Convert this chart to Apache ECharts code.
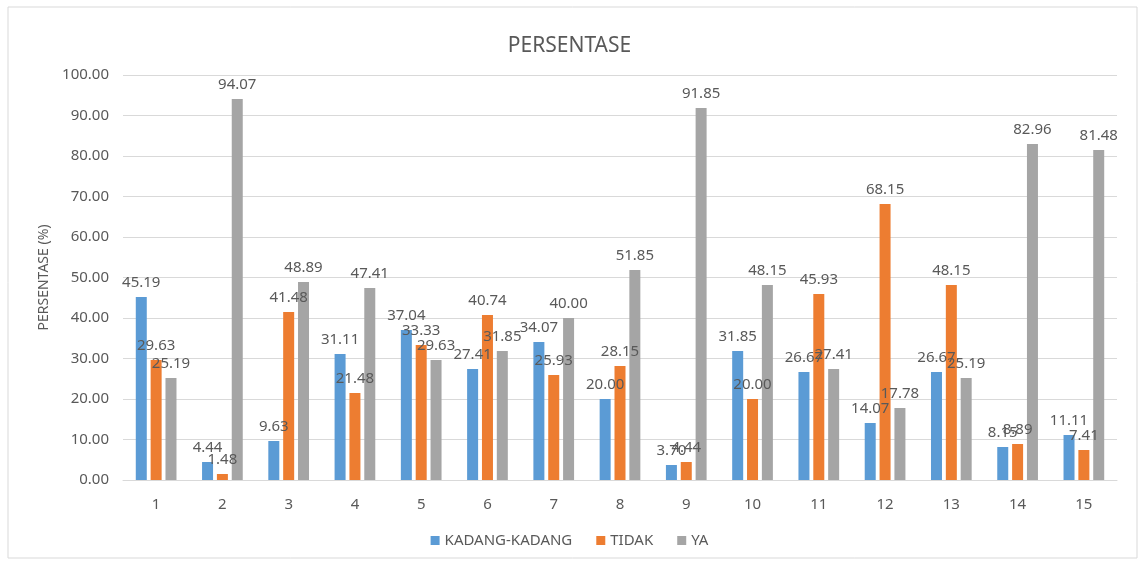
<!DOCTYPE html>
<html>
<head>
<meta charset="utf-8">
<script src="https://cdn.jsdelivr.net/npm/echarts@6/dist/echarts.min.js"></script>
<style>
  body { margin: 0; background: #fff; }
  #main { width: 1139px; height: 562px; }
</style>
</head>
<body>
<div id="main"></div>
<script>
var categories = ['1', '2', '3', '4', '5', '6', '7', '8', '9', '10', '11', '12', '13', '14', '15'];
var kadangKadang = [45.19, 4.44, 9.63, 31.11, 37.04, 27.41, 34.07, 20.00, 3.70, 31.85, 26.67, 14.07, 26.67, 8.15, 11.11];
var tidak = [29.63, 1.48, 41.48, 21.48, 33.33, 40.74, 25.93, 28.15, 4.44, 20.00, 45.93, 68.15, 48.15, 8.89, 7.41];
var ya = [25.19, 94.07, 48.89, 47.41, 29.63, 31.85, 40.00, 51.85, 91.85, 48.15, 27.41, 17.78, 25.19, 82.96, 81.48];

var textColor = '#595959';
var font = '"Noto Sans", "Open Sans", "DejaVu Sans", sans-serif';

function barSeries(name, data, color) {
    return {
        name: name,
        type: 'bar',
        data: data,
        barWidth: 11,
        barGap: '35%',
        itemStyle: { color: color },
        label: {
            show: true,
            position: 'top',
            distance: 7,
            color: textColor,
            fontSize: 15,
            fontFamily: font,
            formatter: function (p) { return p.value.toFixed(2); }
        }
    };
}

var myChart = echarts.init(document.getElementById('main'));
myChart.setOption({
    animation: false,
    textStyle: { fontFamily: font },
    graphic: [{
        type: 'rect',
        shape: { x: 8, y: 7, width: 1129, height: 551 },
        style: { fill: 'none', stroke: '#d9d9d9', lineWidth: 1 },
        silent: true
    }],
    title: {
        text: 'PERSENTASE',
        left: 'center',
        top: 31,
        textStyle: { color: textColor, fontSize: 21, fontWeight: 'normal', fontFamily: font }
    },
    legend: {
        bottom: 9,
        left: 'center',
        itemWidth: 9,
        itemHeight: 9,
        itemGap: 24,
        icon: 'rect',
        textStyle: { color: textColor, fontSize: 15, fontFamily: font },
        data: ['KADANG-KADANG', 'TIDAK', 'YA']
    },
    grid: { left: 123, right: 22, top: 75, bottom: 82 },
    xAxis: {
        type: 'category',
        data: categories,
        axisLine: { lineStyle: { color: '#d9d9d9' } },
        axisTick: { show: false },
        axisLabel: { color: textColor, fontSize: 15, margin: 17, fontFamily: font }
    },
    yAxis: {
        type: 'value',
        min: 0,
        max: 100,
        interval: 10,
        name: 'PERSENTASE (%)',
        nameLocation: 'middle',
        nameGap: 71,
        nameTextStyle: { color: textColor, fontSize: 14, fontFamily: font },
        axisLine: { show: false },
        axisTick: { show: false },
        splitLine: { lineStyle: { color: '#d9d9d9' } },
        axisLabel: {
            color: textColor,
            fontSize: 15,
            margin: 14,
            fontFamily: font,
            formatter: function (v) { return v.toFixed(2); }
        }
    },
    series: [
        barSeries('KADANG-KADANG', kadangKadang, '#5b9bd5'),
        barSeries('TIDAK', tidak, '#ed7d31'),
        barSeries('YA', ya, '#a5a5a5')
    ]
});
</script>
</body>
</html>
